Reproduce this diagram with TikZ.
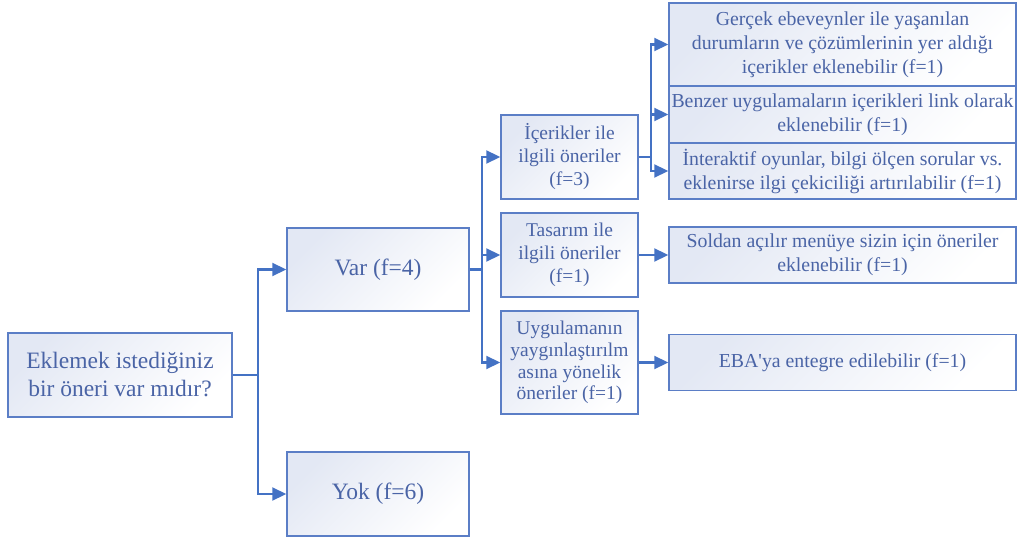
\documentclass[tikz,border=0pt]{standalone}
\usepackage{fontspec}
\setmainfont{Liberation Serif}[Ligatures=TeXOff]
\usetikzlibrary{arrows.meta}
\definecolor{bordc}{HTML}{5B7EC6}
\definecolor{linec}{HTML}{4472C4}
\definecolor{txtc}{HTML}{4A64A6}
\definecolor{fillc}{HTML}{E3E8F4}
\tikzset{
  box/.style={draw=bordc, line width=1.5pt, top color=fillc, bottom color=white, shading angle=45,
    text=txtc, align=center, inner sep=2pt, font=\fontsize{19.5}{23}\selectfont},
  bigbox/.style={box, font=\fontsize{23.5}{28}\selectfont},
  rbox/.style={box, minimum width=347pt, font=\fontsize{19.8}{24}\selectfont},
  arr/.style={draw=linec, line width=2.2pt, -{Triangle[length=14pt,width=13pt]}},
}
\begin{document}
\begin{tikzpicture}[x=1pt,y=-1pt]
\useasboundingbox (0,0) rectangle (1017,537);
\node[bigbox, minimum width=224pt, minimum height=84pt] (root) at (120,375) {Eklemek istediğiniz\\bir öneri var mıdır?};
\node[bigbox, minimum width=182pt, minimum height=83pt] (var) at (378,269.5) {Var (f=4)};
\node[bigbox, minimum width=182pt, minimum height=84pt] (yok) at (378,494) {Yok (f=6)};
\node[box, minimum width=137pt, minimum height=84pt] (ice) at (569.5,157) {İçerikler ile\\ilgili öneriler\\(f=3)};
\node[box, minimum width=137pt, minimum height=84pt] (tas) at (569.5,255) {Tasarım ile\\ilgili öneriler\\(f=1)};
\node[box, minimum width=137pt, minimum height=103pt, font=\fontsize{19.5}{21.7}\selectfont] (uyg) at (569.5,362.5) {Uygulamanın\\yaygınlaştırılm\\asına yönelik\\öneriler (f=1)};
\node[rbox, minimum height=83pt] (ger) at (842.5,44.5) {Gerçek ebeveynler ile yaşanılan\\durumların ve çözümlerinin yer aldığı\\içerikler eklenebilir (f=1)};
\node[rbox, minimum height=57pt] (ben) at (842.5,114.5) {Benzer uygulamaların içerikleri link olarak\\eklenebilir (f=1)};
\node[rbox, minimum height=56pt] (int) at (842.5,171) {İnteraktif oyunlar, bilgi ölçen sorular vs.\\eklenirse ilgi çekiciliği artırılabilir (f=1)};
\node[rbox, minimum height=56pt] (sol) at (842.5,255) {Soldan açılır menüye sizin için öneriler\\eklenebilir (f=1)};
\node[rbox, minimum height=56pt] (eba) at (842.5,362.5) {EBA'ya entegre edilebilir (f=1)};

\draw[arr] (root.east) -- ++(25,0) |- (var.west);
\draw[arr] (root.east) -- ++(25,0) |- (yok.west);
\draw[arr] (var.east) -- ++(12,0) |- (ice.west);
\draw[arr] (var.east) -- ++(12,0) |- (tas.west);
\draw[arr] (var.east) -- ++(12,0) |- (uyg.west);
\draw[arr] (ice.east) -- ++(12,0) |- (ger.west);
\draw[arr] (ice.east) -- ++(12,0) |- (ben.west);
\draw[arr] (ice.east) -- ++(12,0) |- (int.west);
\draw[arr] (tas.east) -- (sol.west);
\draw[arr] (uyg.east) -- (eba.west);
\end{tikzpicture}
\end{document}
